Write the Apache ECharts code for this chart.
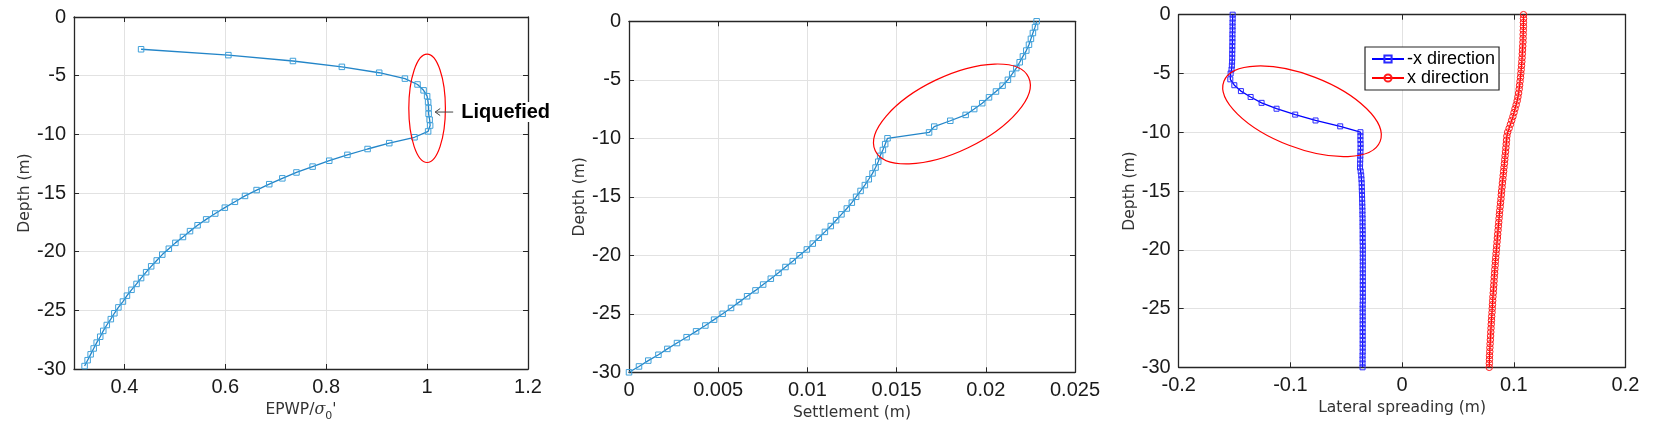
<!DOCTYPE html>
<html><head><meta charset="utf-8">
<script src="https://cdn.jsdelivr.net/npm/echarts@6/dist/echarts.min.js"></script>
<style>html,body{margin:0;padding:0;background:#fff}#c{width:1663px;height:438px}</style>
</head><body><div id="c"></div>
<script>
// ---------- Panel 1: EPWP ratio vs depth ----------
const depth1 = [-2.75,-3.25,-3.75,-4.25,-4.75,-5.25,-5.75,-6.25,-6.75,-7.25,-7.75,-8.25,-8.75,-9.25,-9.75,
  -10.25,-10.75,-11.25,-11.75,-12.25,-12.75,-13.25,-13.75,-14.25,-14.75,-15.25,-15.75,-16.25,-16.75,-17.25,
  -17.75,-18.25,-18.75,-19.25,-19.75,-20.25,-20.75,-21.25,-21.75,-22.25,-22.75,-23.25,-23.75,-24.25,-24.75,
  -25.25,-25.75,-26.25,-26.75,-27.25,-27.75,-28.25,-28.75,-29.25,-29.75];
const epwp = [0.433,0.606,0.734,0.831,0.905,0.956,0.981,0.993,1.000,1.002,1.003,1.003,1.005,1.006,1.002,
  0.975,0.925,0.882,0.842,0.806,0.773,0.741,0.713,0.687,0.662,0.639,0.619,0.599,0.580,0.562,
  0.545,0.530,0.516,0.501,0.488,0.475,0.464,0.453,0.443,0.433,0.424,0.414,0.405,0.397,0.388,
  0.380,0.373,0.365,0.358,0.352,0.345,0.339,0.333,0.327,0.321];
const epwpTicks = [0.4,0.6,0.8,1.0,1.2];

// ---------- Panel 2: settlement vs depth ----------
const depth2 = [0,-0.5,-1,-1.5,-2,-2.5,-3,-3.5,-4,-4.5,-5,-5.5,-6,-6.5,-7,-7.5,-8,-8.5,-9,-9.5,-10,
  -10.5,-11,-11.5,-12,-12.5,-13,-13.5,-14,-14.5,-15,-15.5,-16,-16.5,-17,-17.5,-18,-18.5,-19,-19.5,-20,
  -20.5,-21,-21.5,-22,-22.5,-23,-23.5,-24,-24.5,-25,-25.5,-26,-26.5,-27,-27.5,-28,-28.5,-29,-29.5,-30];
const settlement = [0.02285,0.02276,0.02264,0.02253,0.02242,0.02227,0.02208,0.02190,0.02171,0.02148,0.02124,
  0.02094,0.02057,0.02018,0.01980,0.01935,0.01887,0.01801,0.01711,0.01682,0.01449,
  0.01436,0.01423,0.01408,0.01397,0.01382,0.01365,0.01344,0.01322,0.01298,0.01273,
  0.01249,0.01221,0.01191,0.01161,0.01131,0.01098,0.01064,0.01030,0.00997,0.00956,
  0.00918,0.00877,0.00838,0.00795,0.00752,0.00709,0.00662,0.00617,0.00572,0.00525,
  0.00477,0.00428,0.00376,0.00323,0.00269,0.00215,0.00165,0.00108,0.00056,0.00000];

// ---------- Panel 3: lateral spreading vs depth ----------
const depthNeg = [0,-0.33,-0.67,-1,-1.33,-1.67,-2,-2.33,-2.67,-3,-3.33,-3.67,-4,-4.33,-4.67,-5,
  -5.5,-6,-6.5,-7,-7.5,-8,-8.5,-9,-9.5,-10,
  -10.33,-10.67,-11,-11.33,-11.67,-12,-12.33,-12.67,-13,-13.33,-13.67,-14,-14.33,-14.67,-15,
  -15.33,-15.67,-16,-16.33,-16.67,-17,-17.33,-17.67,-18,-18.33,-18.67,-19,-19.33,-19.67,-20,
  -20.33,-20.67,-21,-21.33,-21.67,-22,-22.33,-22.67,-23,-23.33,-23.67,-24,-24.33,-24.67,-25,
  -25.33,-25.67,-26,-26.33,-26.67,-27,-27.33,-27.67,-28,-28.33,-28.67,-29,-29.33,-29.67,-30];
const spreadNeg = [-0.1517,-0.1517,-0.1518,-0.1518,-0.1518,-0.1519,-0.1519,-0.1519,-0.1520,-0.1520,-0.1521,-0.1521,-0.1522,-0.1524,-0.1527,-0.1535,
  -0.1538,-0.1502,-0.1443,-0.1356,-0.1258,-0.1124,-0.0957,-0.0775,-0.0554,-0.0373,
  -0.0373,-0.0373,-0.0372,-0.0372,-0.0373,-0.0374,-0.0375,-0.0376,-0.0377,-0.0371,-0.0366,-0.0364,-0.0362,-0.0361,-0.0360,
  -0.0359,-0.0358,-0.0357,-0.0356,-0.0355,-0.0355,-0.0354,-0.0354,-0.0354,-0.0353,-0.0353,-0.0353,-0.0353,-0.0352,-0.0352,
  -0.0352,-0.0352,-0.0352,-0.0352,-0.0352,-0.0352,-0.0352,-0.0352,-0.0352,-0.0352,-0.0352,-0.0352,-0.0352,-0.0353,-0.0353,
  -0.0353,-0.0353,-0.0353,-0.0353,-0.0353,-0.0353,-0.0353,-0.0353,-0.0353,-0.0353,-0.0353,-0.0354,-0.0354,-0.0354,-0.0354];
const depthPos = [0,-0.33,-0.67,-1,-1.33,-1.67,-2,-2.33,-2.67,-3,-3.33,-3.67,-4,-4.33,-4.67,-5,
  -5.33,-5.67,-6,-6.33,-6.67,-7,-7.33,-7.67,-8,-8.33,-8.67,-9,-9.33,-9.67,-10,
  -10.33,-10.67,-11,-11.33,-11.67,-12,-12.33,-12.67,-13,-13.33,-13.67,-14,-14.33,-14.67,-15,
  -15.33,-15.67,-16,-16.33,-16.67,-17,-17.33,-17.67,-18,-18.33,-18.67,-19,-19.33,-19.67,-20,
  -20.33,-20.67,-21,-21.33,-21.67,-22,-22.33,-22.67,-23,-23.33,-23.67,-24,-24.33,-24.67,-25,
  -25.33,-25.67,-26,-26.33,-26.67,-27,-27.33,-27.67,-28,-28.33,-28.67,-29,-29.33,-29.67,-30];
const spreadPos = [0.1087,0.1087,0.1086,0.1086,0.1085,0.1084,0.1083,0.1082,0.1080,0.1078,0.1076,0.1074,0.1072,0.1069,0.1066,0.1063,
  0.1060,0.1056,0.1052,0.1048,0.1043,0.1037,0.1030,0.1021,0.1011,0.1002,0.0992,0.0981,0.0970,0.0958,0.0945,
  0.0938,0.0935,0.0932,0.0929,0.0926,0.0922,0.0919,0.0916,0.0912,0.0909,0.0905,0.0902,0.0898,0.0895,0.0891,
  0.0888,0.0885,0.0881,0.0878,0.0874,0.0871,0.0868,0.0865,0.0862,0.0859,0.0856,0.0853,0.0850,0.0847,0.0844,
  0.0841,0.0838,0.0835,0.0833,0.0830,0.0828,0.0825,0.0823,0.0821,0.0818,0.0816,0.0813,0.0811,0.0809,0.0807,
  0.0805,0.0802,0.0800,0.0798,0.0796,0.0794,0.0792,0.0790,0.0788,0.0786,0.0785,0.0783,0.0782,0.0781,0.0780];

const seriesNames = ['-x direction', 'x direction'];
const xTitle2 = 'Settlement (m)';
const xTitle3 = 'Lateral spreading (m)';
const yTitle = 'Depth (m)';
const annotText = 'Liquefied';
// annotation anchors in data units
const ell1Center = [1.0, -7.78];
const ell2Center = [0.0181, -7.92];
const ell3Center = [-0.0896, -8.22];
const arrowTip = [1.016, -8.1];

const AX = '#262626';
const TF = 'Liberation Sans';
const NF = 'DejaVu Sans';

function pairs(xs, ys) { return ys.map((d, i) => [xs[i], d]); }

function mkTick(custom) {
  const t = {show: true, inside: true, length: 5, lineStyle: {color: AX, width: 1}};
  if (custom) t.customValues = custom;
  return t;
}
function mkXAxes(gi, min, max, interval, custom, name, nameGap, rich) {
  const lab = {show: true, color: '#1a1a1a', fontFamily: TF, fontSize: 20, margin: 8};
  if (custom) lab.customValues = custom;
  const b = {type: 'value', gridIndex: gi, min: min, max: max, position: 'bottom',
    axisLine: {show: true, onZero: false, lineStyle: {color: AX, width: 1.3}},
    axisTick: mkTick(custom), axisLabel: lab,
    splitLine: {show: true, lineStyle: {color: '#e2e2e2', width: 1}},
    name: name, nameLocation: 'middle', nameGap: nameGap,
    nameTextStyle: {fontFamily: NF, fontSize: 15.5, color: '#333', rich: rich}};
  const t = {type: 'value', gridIndex: gi, min: min, max: max, position: 'top',
    axisLine: {show: true, onZero: false, lineStyle: {color: AX, width: 1.3}},
    axisTick: mkTick(custom), axisLabel: {show: false}, splitLine: {show: false}};
  if (interval != null) { b.interval = interval; t.interval = interval; }
  return [b, t];
}
function mkYAxes(gi) {
  const l = {type: 'value', gridIndex: gi, min: -30, max: 0, interval: 5, position: 'left',
    axisLine: {show: true, onZero: false, lineStyle: {color: AX, width: 1.3}},
    axisTick: mkTick(), axisLabel: {show: true, color: '#1a1a1a', fontFamily: TF, fontSize: 20, margin: 8},
    splitLine: {show: true, lineStyle: {color: '#e2e2e2', width: 1}},
    name: yTitle, nameLocation: 'middle', nameGap: 40, nameRotate: 90,
    nameTextStyle: {fontFamily: NF, fontSize: 15.5, color: '#333'}};
  const r = {type: 'value', gridIndex: gi, min: -30, max: 0, interval: 5, position: 'right',
    axisLine: {show: true, onZero: false, lineStyle: {color: AX, width: 1.3}},
    axisTick: mkTick(), axisLabel: {show: false}, splitLine: {show: false}};
  return [l, r];
}

const rich1 = {
  a: {fontFamily: NF, fontSize: 15.5, color: '#333'},
  s: {fontFamily: 'DejaVu Serif', fontStyle: 'italic', fontSize: 16, color: '#333'},
  b: {fontFamily: NF, fontSize: 11, color: '#333', padding: [13, 0, 0, 0]}
};

const xAxes = [].concat(
  mkXAxes(0, 0.3, 1.2, null, epwpTicks, '{a|EPWP/}{s|σ}{b|0}{a|\'}', 29, rich1),
  mkXAxes(1, 0, 0.025, 0.005, null, xTitle2, 29),
  mkXAxes(2, -0.2, 0.2, 0.1, null, xTitle3, 29)
);
const yAxes = [].concat(mkYAxes(0), mkYAxes(1), mkYAxes(2));

function lineSeries(name, xi, yi, data, lineColor, markColor, symbol, size) {
  return {type: 'line', name: name, xAxisIndex: xi, yAxisIndex: yi, data: data,
    symbol: symbol, symbolSize: size, showSymbol: true, showAllSymbol: true,
    lineStyle: {color: lineColor, width: 1.3},
    itemStyle: {color: 'rgba(0,0,0,0)', borderColor: markColor, borderWidth: 1},
    emphasis: {disabled: true}, silent: true, animation: false, clip: false};
}

const option = {
  animation: false,
  backgroundColor: '#fff',
  grid: [
    {left: 74, top: 17, width: 454, height: 352, outerBoundsMode: 'none', containLabel: false},
    {left: 629, top: 21.3, width: 446, height: 351, outerBoundsMode: 'none', containLabel: false},
    {left: 1178.7, top: 14.7, width: 446.8, height: 352.6, outerBoundsMode: 'none', containLabel: false}
  ],
  xAxis: xAxes,
  yAxis: yAxes,
  legend: {
    show: true, orient: 'vertical', left: 1365, top: 47,
    itemWidth: 32, itemHeight: 9, itemGap: 1, padding: [3, 4, 3, 6],
    borderColor: AX, borderWidth: 1.2, backgroundColor: '#fff', selectedMode: false,
    textStyle: {fontFamily: TF, fontSize: 18, color: '#000', padding: [0, 0, 0, -2]},
    data: seriesNames
  },
  series: [
    lineSeries('EPWP', 0, 0, pairs(epwp, depth1), '#2385c8', '#3fa0da', 'rect', 5.5),
    lineSeries('Settlement', 2, 2, pairs(settlement, depth2), '#2385c8', '#3fa0da', 'rect', 5.5),
    lineSeries(seriesNames[0], 4, 4, pairs(spreadNeg, depthNeg), '#0000ff', '#2a2aff', 'rect', 5),
    lineSeries(seriesNames[1], 4, 4, pairs(spreadPos, depthPos), '#ff0000', '#ff1a1a', 'circle', 6.5)
  ]
};

const chart = echarts.init(document.getElementById('c'), null, {renderer: 'canvas'});
chart.setOption(option);

const p1 = chart.convertToPixel({gridIndex: 0}, ell1Center);
const p2 = chart.convertToPixel({gridIndex: 1}, ell2Center);
const p3 = chart.convertToPixel({gridIndex: 2}, ell3Center);
const pa = chart.convertToPixel({gridIndex: 0}, arrowTip);
const red = {fill: 'none', stroke: '#ff0000', lineWidth: 1.2};
const ak = {stroke: '#444', lineWidth: 1};
chart.setOption({
  graphic: [
    {type: 'ellipse', shape: {cx: 0, cy: 0, rx: 18.3, ry: 54.2}, x: p1[0], y: p1[1], style: red, z: 100, silent: true},
    {type: 'ellipse', shape: {cx: 0, cy: 0, rx: 85, ry: 37.5}, x: p2[0], y: p2[1], rotation: 0.447, style: red, z: 100, silent: true},
    {type: 'ellipse', shape: {cx: 0, cy: 0, rx: 83.7, ry: 36.4}, x: p3[0], y: p3[1], rotation: -0.367, style: red, z: 100, silent: true},
    {type: 'line', shape: {x1: pa[0], y1: pa[1], x2: pa[0] + 18, y2: pa[1]}, style: ak, z: 100, silent: true},
    {type: 'polyline', shape: {points: [[pa[0] + 5, pa[1] - 3.5], [pa[0], pa[1]], [pa[0] + 5, pa[1] + 3.5]]}, style: ak, z: 100, silent: true},
    {type: 'text', x: pa[0] + 26, y: pa[1], z: 100, silent: true,
      style: {text: annotText, fill: '#000', font: 'bold 20px "Liberation Sans"', verticalAlign: 'middle', align: 'left', backgroundColor: '#fff'}}
  ]
});
</script>
</body></html>
